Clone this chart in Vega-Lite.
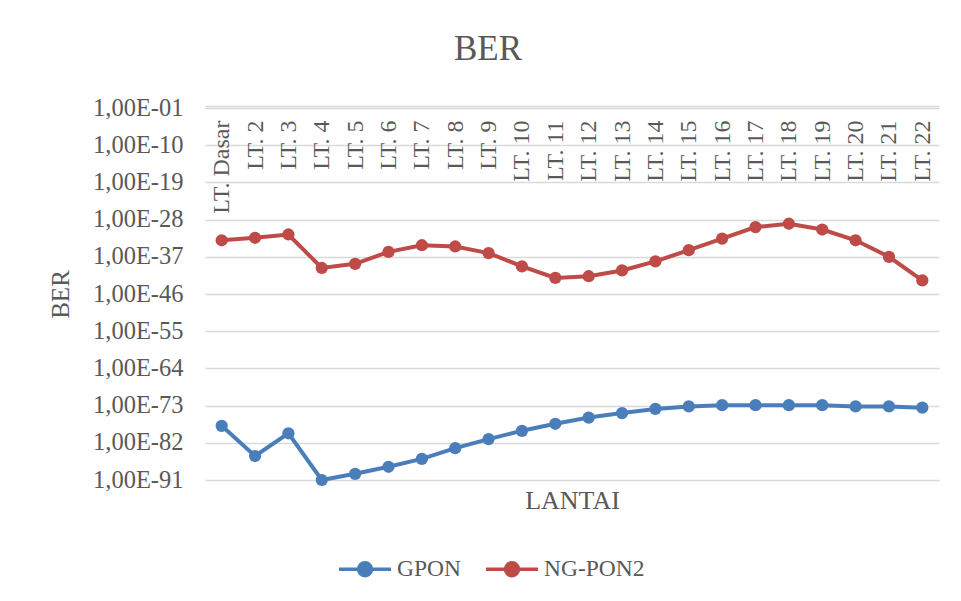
{
  "$schema": "https://vega.github.io/schema/vega-lite/v6.json",
  "width": 734,
  "height": 372,
  "autosize": {"type": "none"},
  "padding": {"left": 205, "top": 108, "right": 22, "bottom": 121},
  "background": "#ffffff",
  "config": {
    "view": {"stroke": null},
    "font": "Liberation Serif"
  },
  "title": {
    "text": "BER",
    "font": "Liberation Serif",
    "fontSize": 35,
    "fontWeight": "normal",
    "color": "#595959",
    "anchor": "middle",
    "frame": "group",
    "dx": -84,
    "offset": 0,
    "baseline": "alphabetic"
  },
  "data": {
    "values": [
      {"lantai": "LT. Dasar", "series": "GPON", "ber": 1.26e-78},
      {"lantai": "LT. 2", "series": "GPON", "ber": 6.31e-86},
      {"lantai": "LT. 3", "series": "GPON", "ber": 2.0e-80},
      {"lantai": "LT. 4", "series": "GPON", "ber": 1.0e-91},
      {"lantai": "LT. 5", "series": "GPON", "ber": 3.16e-90},
      {"lantai": "LT. 6", "series": "GPON", "ber": 1.58e-88},
      {"lantai": "LT. 7", "series": "GPON", "ber": 1.26e-86},
      {"lantai": "LT. 8", "series": "GPON", "ber": 5.01e-84},
      {"lantai": "LT. 9", "series": "GPON", "ber": 7.94e-82},
      {"lantai": "LT. 10", "series": "GPON", "ber": 7.94e-80},
      {"lantai": "LT. 11", "series": "GPON", "ber": 3.98e-78},
      {"lantai": "LT. 12", "series": "GPON", "ber": 1.26e-76},
      {"lantai": "LT. 13", "series": "GPON", "ber": 1.58e-75},
      {"lantai": "LT. 14", "series": "GPON", "ber": 1.58e-74},
      {"lantai": "LT. 15", "series": "GPON", "ber": 6.31e-74},
      {"lantai": "LT. 16", "series": "GPON", "ber": 1.26e-73},
      {"lantai": "LT. 17", "series": "GPON", "ber": 1.26e-73},
      {"lantai": "LT. 18", "series": "GPON", "ber": 1.26e-73},
      {"lantai": "LT. 19", "series": "GPON", "ber": 1.26e-73},
      {"lantai": "LT. 20", "series": "GPON", "ber": 6.31e-74},
      {"lantai": "LT. 21", "series": "GPON", "ber": 6.31e-74},
      {"lantai": "LT. 22", "series": "GPON", "ber": 3.16e-74},
      {"lantai": "LT. Dasar", "series": "NG-PON2", "ber": 1.0e-33},
      {"lantai": "LT. 2", "series": "NG-PON2", "ber": 3.98e-33},
      {"lantai": "LT. 3", "series": "NG-PON2", "ber": 2.51e-32},
      {"lantai": "LT. 4", "series": "NG-PON2", "ber": 2.0e-40},
      {"lantai": "LT. 5", "series": "NG-PON2", "ber": 2.0e-39},
      {"lantai": "LT. 6", "series": "NG-PON2", "ber": 1.58e-36},
      {"lantai": "LT. 7", "series": "NG-PON2", "ber": 6.31e-35},
      {"lantai": "LT. 8", "series": "NG-PON2", "ber": 3.16e-35},
      {"lantai": "LT. 9", "series": "NG-PON2", "ber": 7.94e-37},
      {"lantai": "LT. 10", "series": "NG-PON2", "ber": 5.01e-40},
      {"lantai": "LT. 11", "series": "NG-PON2", "ber": 7.94e-43},
      {"lantai": "LT. 12", "series": "NG-PON2", "ber": 2.0e-42},
      {"lantai": "LT. 13", "series": "NG-PON2", "ber": 5.01e-41},
      {"lantai": "LT. 14", "series": "NG-PON2", "ber": 7.94e-39},
      {"lantai": "LT. 15", "series": "NG-PON2", "ber": 3.98e-36},
      {"lantai": "LT. 16", "series": "NG-PON2", "ber": 2.51e-33},
      {"lantai": "LT. 17", "series": "NG-PON2", "ber": 1.58e-30},
      {"lantai": "LT. 18", "series": "NG-PON2", "ber": 1.0e-29},
      {"lantai": "LT. 19", "series": "NG-PON2", "ber": 3.98e-31},
      {"lantai": "LT. 20", "series": "NG-PON2", "ber": 1.0e-33},
      {"lantai": "LT. 21", "series": "NG-PON2", "ber": 1.0e-37},
      {"lantai": "LT. 22", "series": "NG-PON2", "ber": 2.0e-43}
    ]
  },
  "mark": {
    "type": "line",
    "strokeWidth": 4,
    "point": {"filled": true, "size": 150},
    "clip": false
  },
  "encoding": {
    "x": {
      "field": "lantai",
      "type": "nominal",
      "sort": null,
      "scale": {"paddingInner": 0, "paddingOuter": 0.5},
      "axis": {
        "orient": "top",
        "title": "LANTAI",
        "titleFont": "Liberation Serif",
        "titleFontSize": 26,
        "titleFontWeight": "normal",
        "titleColor": "#595959",
        "titleX": 367,
        "titleY": 394,
        "titleAlign": "center",
        "titleBaseline": "middle",
        "labelAngle": -90,
        "labelAlign": "right",
        "labelBaseline": "middle",
        "labelPadding": -14,
        "labelOverlap": false,
        "labelFlush": false,
        "labelBound": false,
        "labelFont": "Liberation Serif",
        "labelFontSize": 24,
        "labelColor": "#595959",
        "ticks": false,
        "domain": true,
        "domainColor": "#D9D9D9",
        "domainWidth": 1.3,
        "offset": 2,
        "grid": false
      }
    },
    "y": {
      "field": "ber",
      "type": "quantitative",
      "scale": {"type": "log", "domain": [1e-91, 1e-1], "nice": false, "zero": false},
      "axis": {
        "values": [1e-1, 1e-10, 1e-19, 1e-28, 1e-37, 1e-46, 1e-55, 1e-64, 1e-73, 1e-82, 1e-91],
        "labelExpr": "'1,00E-' + (round(-log(datum.value)/LN10) < 10 ? '0' : '') + round(-log(datum.value)/LN10)",
        "title": "BER",
        "titleFont": "Liberation Serif",
        "titleFontSize": 25,
        "titleFontWeight": "normal",
        "titleColor": "#595959",
        "titleAngle": -90,
        "titleX": -145,
        "titleY": 186,
        "titleAlign": "center",
        "titleBaseline": "middle",
        "labelFont": "Liberation Serif",
        "labelFontSize": 24.5,
        "labelColor": "#595959",
        "labelPadding": 22,
        "labelOverlap": false,
        "ticks": false,
        "domain": false,
        "grid": true,
        "gridColor": "#D9D9D9",
        "gridWidth": 1.3
      }
    },
    "color": {
      "field": "series",
      "type": "nominal",
      "scale": {"domain": ["GPON", "NG-PON2"], "range": ["#4A7EBB", "#BE4B48"]},
      "legend": {
        "title": null,
        "orient": "none",
        "direction": "horizontal",
        "legendX": 132,
        "legendY": 433,
        "symbolType": "M-1,0L1,0M-0.25,0A0.25,0.25 0 1,0 0.25,0A0.25,0.25 0 1,0 -0.25,0Z",
        "symbolSize": 2704,
        "symbolStrokeWidth": 3.5,
        "labelFont": "Liberation Serif",
        "labelFontSize": 23.5,
        "labelColor": "#595959",
        "labelOffset": 4,
        "columnPadding": 18,
        "encode": {
          "symbols": {
            "update": {
              "fill": {"scale": "color", "field": "value"},
              "stroke": {"scale": "color", "field": "value"},
              "opacity": {"value": 1}
            }
          }
        }
      }
    }
  }
}
